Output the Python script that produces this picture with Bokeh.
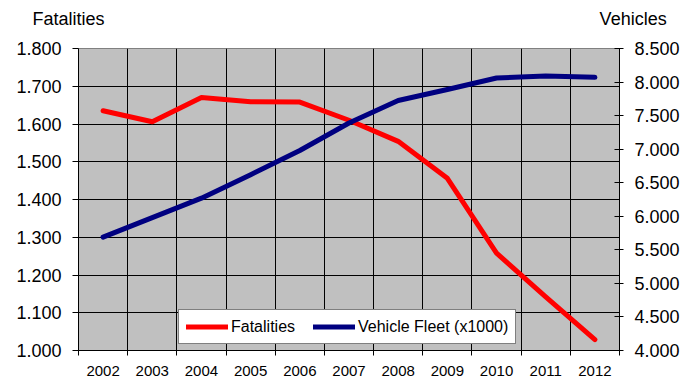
from bokeh.plotting import figure
from bokeh.models import Range1d, LinearAxis, FixedTicker, Legend, LegendItem, Title
from bokeh.embed import file_html
from bokeh.resources import INLINE

years = ["2002", "2003", "2004", "2005", "2006", "2007", "2008", "2009", "2010", "2011", "2012"]
fatalities = [1635, 1606, 1670, 1659, 1658, 1610, 1554, 1456, 1258, 1142, 1029]
vehicles = [5690, 5980, 6270, 6620, 6980, 7390, 7725, 7890, 8060, 8090, 8070]

fat_ticks = [1000, 1100, 1200, 1300, 1400, 1500, 1600, 1700, 1800]
fat_tick_labels = ["1.000", "1.100", "1.200", "1.300", "1.400", "1.500", "1.600", "1.700", "1.800"]
veh_ticks = [4000, 4500, 5000, 5500, 6000, 6500, 7000, 7500, 8000, 8500]
veh_tick_labels = ["4.000", "4.500", "5.000", "5.500", "6.000", "6.500", "7.000", "7.500", "8.000", "8.500"]

left_title = "Fatalities"
right_title = "Vehicles"

FONT = "Liberation Sans"

x = [i + 0.5 for i in range(len(years))]
boundaries = list(range(len(years) + 1))

p = figure(width=687, height=380, output_backend="svg", toolbar_location=None,
           x_range=Range1d(0, len(years)), y_range=Range1d(fat_ticks[0], fat_ticks[-1]),
           min_border_left=78, min_border_right=68, min_border_top=48, min_border_bottom=30,
           background_fill_color="#C0C0C0", border_fill_color="white",
           outline_line_color="#808080")
p.extra_y_ranges = {"veh": Range1d(veh_ticks[0], veh_ticks[-1])}

# grids
p.xgrid.ticker = FixedTicker(ticks=boundaries)
p.xgrid.grid_line_color = "black"
p.ygrid.ticker = FixedTicker(ticks=fat_ticks)
p.ygrid.grid_line_color = "black"

# bottom axis
xa = p.xaxis[0]
xa.ticker = FixedTicker(ticks=x, minor_ticks=boundaries)
xa.major_label_overrides = {xi: y for xi, y in zip(x, years)}
xa.major_tick_line_color = None
xa.major_tick_out = 0
xa.major_tick_in = 0
xa.minor_tick_line_color = "black"
xa.minor_tick_out = 5
xa.minor_tick_in = 0
xa.axis_line_color = "black"
xa.major_label_text_font = FONT
xa.major_label_text_font_size = "15px"
xa.major_label_text_color = "black"
xa.major_label_standoff = 10

# left axis
ya = p.yaxis[0]
ya.ticker = FixedTicker(ticks=fat_ticks)
ya.major_label_overrides = {t: l for t, l in zip(fat_ticks, fat_tick_labels)}
ya.major_tick_out = 6
ya.major_tick_in = 0
ya.minor_tick_line_color = None
ya.axis_line_color = "black"
ya.major_label_text_font = FONT
ya.major_label_text_font_size = "18px"
ya.major_label_text_color = "black"
ya.major_label_standoff = 11

# right axis
ra = LinearAxis(y_range_name="veh", ticker=FixedTicker(ticks=veh_ticks))
ra.major_label_overrides = {t: l for t, l in zip(veh_ticks, veh_tick_labels)}
ra.major_tick_out = 4
ra.major_tick_in = 5
ra.minor_tick_line_color = None
ra.axis_line_color = "black"
ra.major_label_text_font = FONT
ra.major_label_text_font_size = "18px"
ra.major_label_text_color = "black"
ra.major_label_standoff = 11
p.add_layout(ra, "right")

r1 = p.line(x, fatalities, line_color="#FF0000", line_width=5, line_cap="round", line_join="round")
r2 = p.line(x, vehicles, y_range_name="veh", line_color="#000080", line_width=5,
            line_cap="round", line_join="round")

legend = Legend(items=[LegendItem(label="Fatalities", renderers=[r1]),
                       LegendItem(label="Vehicle Fleet (x1000)", renderers=[r2])],
                orientation="horizontal", location=(100, 6), margin=0,
                padding=7, spacing=18, label_standoff=3, glyph_width=42, glyph_height=19,
                label_text_font=FONT, label_text_font_size="16px", label_text_color="black",
                border_line_color="black", border_line_width=1,
                background_fill_color="white", background_fill_alpha=1.0)
p.add_layout(legend, "center")

# axis titles on one line above the plot (non-breaking spaces keep them apart);
# the trailing empty line lifts the text away from the plot area
title_text = left_title + "\u00a0" * 99 + right_title + "\n"
p.add_layout(Title(text=title_text, align="left", offset=-46, standoff=0,
                   text_font=FONT, text_font_size="18px", text_font_style="normal",
                   text_color="black"), "above")

open("out.html", "w").write(file_html(p, INLINE))
